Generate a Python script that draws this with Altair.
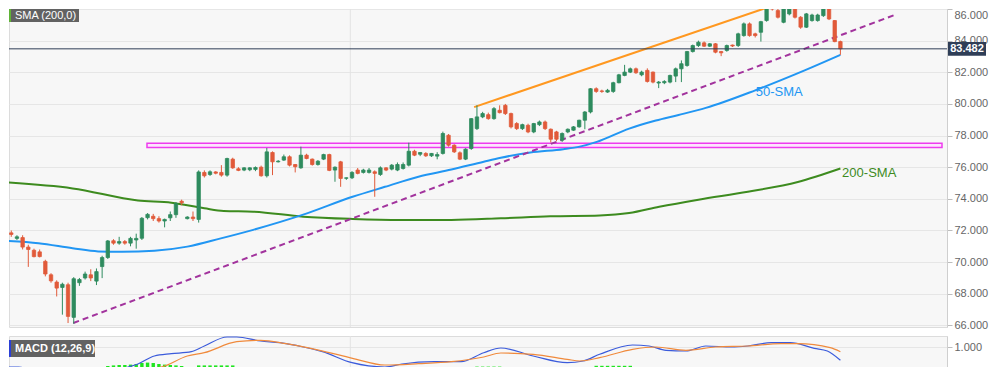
import altair as alt
import pandas as pd

# ---------------- candle data (index = trading session) ----------------
opens = [71.9, 71.85, 71.5, 71.55, 70.95, 70.75, 70.65, 70.05, 69.2, 68.74,
         68.4, 68.57, 66.51, 68.7, 69.0, 69.2, 68.8, 69.72, 70.29, 71.35,
         71.2, 71.3, 71.2, 71.4, 71.51, 72.81, 72.9, 72.75, 72.6, 72.8,
         73.0, 73.85, 72.75, 72.85, 72.7, 75.67, 75.54, 75.7, 75.67, 75.5,
         76.51, 75.9, 75.82, 75.84, 75.86, 76.0, 75.46, 76.93, 76.34, 76.45,
         76.66, 76.17, 75.96, 76.76, 76.51, 76.17, 76.51, 76.8, 75.82, 76.34,
         75.3, 75.33, 75.82, 75.67, 75.67, 75.71, 75.54, 75.96, 75.88, 75.82,
         75.92, 76.13, 77.01, 76.82, 76.87, 76.72, 76.7, 76.87, 78.02, 77.39,
         76.91, 76.51, 77.18, 78.44, 79.18, 79.32, 79.07, 79.6, 79.91, 79.39,
         78.76, 78.44, 78.65, 78.23, 78.69, 78.86, 78.4, 78.23, 77.71, 78.23,
         78.34, 78.55, 78.97, 79.49, 80.96, 80.82, 80.75, 80.79, 81.34, 81.8,
         82.01, 82.22, 81.84, 82.12, 82.01, 81.32, 81.34, 81.38, 81.76, 82.22,
         82.43, 83.31, 83.69, 83.86, 83.65, 83.8, 83.31, 83.38, 83.72, 83.69,
         84.32, 85.06, 84.43, 84.53, 85.27, 86.11, 85.9, 85.16, 85.69, 86.11,
         85.48, 84.85, 85.27, 85.27, 85.58, 86.21, 85.27, 83.94]
highs = [72.0, 72.0, 71.7, 71.7, 71.1, 70.85, 70.8, 70.15, 69.3, 68.85,
         68.7, 68.7, 69.05, 69.0, 69.4, 69.55, 69.6, 70.4, 71.4, 71.45,
         71.6, 71.4, 71.6, 71.8, 72.85, 73.1, 73.05, 72.9, 72.75, 73.2,
         73.8, 73.95, 72.9, 73.2, 75.8, 75.8, 75.8, 75.75, 76.13, 76.6,
         76.6, 76.0, 76.0, 76.0, 76.05, 76.1, 77.22, 77.0, 76.45, 76.8,
         76.75, 76.2, 77.3, 76.85, 76.55, 76.45, 76.85, 76.85, 76.05, 76.4,
         75.35, 75.75, 75.95, 75.9, 75.95, 75.8, 76.05, 76.0, 76.2, 76.3,
         76.3, 77.55, 77.1, 76.95, 76.95, 76.9, 76.95, 78.25, 78.1, 77.45,
         77.0, 77.2, 79.1, 79.91, 79.5, 79.45, 79.8, 79.91, 80.0, 79.45,
         78.85, 78.75, 78.75, 78.8, 78.95, 78.95, 78.45, 78.3, 78.2, 78.45,
         78.6, 79.0, 79.55, 81.0, 81.05, 80.9, 80.95, 81.4, 81.9, 82.47,
         82.3, 82.3, 82.1, 82.25, 82.05, 81.45, 81.5, 81.85, 82.3, 82.75,
         83.35, 83.75, 84.0, 83.95, 83.85, 83.85, 83.35, 83.75, 83.75, 84.5,
         85.15, 85.15, 84.5, 85.25, 86.1, 86.2, 86.0, 86.05, 86.15, 86.42,
         85.55, 85.75, 85.7, 85.7, 86.25, 86.42, 85.3, 84.0]
lows = [71.65, 71.6, 71.4, 70.8, 69.7, 70.3, 70.3, 69.1, 68.7, 67.83,
        66.68, 66.15, 66.1, 68.5, 68.9, 68.8, 68.55, 68.99, 70.2, 71.1,
        71.1, 71.1, 71.0, 70.85, 71.4, 72.7, 72.6, 72.5, 72.2, 72.6,
        72.8, 73.6, 72.7, 72.6, 72.5, 75.35, 75.45, 75.55, 75.4, 75.4,
        75.9, 75.75, 75.75, 75.75, 75.75, 75.4, 75.35, 75.5, 76.3, 76.4,
        76.05, 75.67, 75.9, 76.5, 76.1, 76.1, 76.45, 75.75, 75.08, 74.76,
        75.2, 75.25, 75.55, 75.6, 75.6, 74.13, 75.45, 75.75, 75.8, 75.75,
        75.85, 76.05, 76.7, 76.7, 76.65, 76.65, 76.5, 76.8, 77.3, 76.9,
        76.45, 76.45, 77.1, 78.35, 79.1, 79.0, 79.0, 79.4, 79.3, 78.45,
        78.35, 78.35, 78.15, 78.15, 78.6, 78.35, 77.56, 77.65, 77.6, 78.15,
        78.3, 78.5, 78.4, 79.4, 80.7, 80.7, 80.7, 80.7, 81.3, 81.75,
        81.95, 81.9, 81.75, 81.35, 81.3, 81.0, 81.25, 81.3, 81.38, 81.38,
        82.35, 83.25, 83.6, 83.6, 83.6, 83.2, 83.02, 83.3, 83.6, 83.6,
        84.25, 84.25, 84.2, 83.94, 85.2, 85.9, 85.4, 85.1, 85.6, 85.4,
        84.75, 84.8, 85.2, 85.2, 85.5, 85.3, 83.9, 83.1]
closes = [71.8, 71.75, 71.6, 70.95, 70.8, 70.35, 70.35, 69.25, 68.82, 68.36,
          68.6, 66.57, 68.95, 68.9, 69.25, 69.0, 69.4, 70.29, 71.34, 71.2,
          71.3, 71.2, 71.5, 71.5, 72.77, 73.02, 72.75, 72.6, 72.7, 73.0,
          73.7, 73.75, 72.85, 72.75, 75.7, 75.46, 75.71, 75.62, 75.5, 76.55,
          75.96, 75.8, 75.96, 75.96, 75.98, 75.46, 76.97, 76.34, 76.38, 76.66,
          76.13, 76.03, 76.76, 76.55, 76.17, 76.38, 76.8, 75.8, 76.0, 75.29,
          75.33, 75.67, 75.61, 75.82, 75.82, 75.61, 75.96, 75.82, 76.13, 76.17,
          76.17, 77.01, 76.76, 76.93, 76.72, 76.87, 76.8, 78.13, 77.39, 76.97,
          76.51, 77.14, 79.07, 79.18, 79.39, 79.07, 79.7, 79.45, 79.39, 78.55,
          78.44, 78.69, 78.23, 78.76, 78.86, 78.44, 77.77, 77.77, 78.13, 78.4,
          78.55, 78.97, 79.49, 80.96, 80.79, 80.79, 80.86, 81.34, 81.84, 82.01,
          82.22, 81.97, 82.01, 81.42, 81.38, 81.38, 81.42, 81.8, 82.22, 82.54,
          83.31, 83.69, 83.9, 83.65, 83.8, 83.27, 83.23, 83.69, 83.66, 84.43,
          85.06, 84.32, 84.32, 85.2, 86.04, 86.0, 85.48, 86.0, 86.04, 85.48,
          84.85, 85.69, 85.62, 85.62, 86.21, 85.37, 83.94, 83.482]

# ---------------- overlays ----------------
sma50_idx = [0.1, 5.8, 11.8, 16.3, 20.5, 26.2, 32.0, 37.9, 43.6, 52.4, 61.1, 66.8,
             72.7, 78.5, 84.2, 87.2, 92.4, 98.2, 101.1, 104.1, 109.8, 114.5,
             118.5, 123.3, 132.0, 140.7, 147.0]
sma50_val = [71.35, 71.2, 70.88, 70.68, 70.66, 70.72, 70.98, 71.5, 72.04, 73.0, 74.13,
             74.76, 75.4, 75.85, 76.35, 76.6, 76.93, 77.14, 77.3, 77.6, 78.44, 78.95,
             79.3, 79.75, 80.86, 82.12, 83.1]
sma200_idx = [0.1, 11.8, 23.3, 29.2, 35.0, 38.4, 43.6, 52.4, 61.1, 69.8, 78.5, 87.2,
              95.9, 104.6, 109.8, 115.1, 122.0, 130.7, 139.5, 147.0]
sma200_val = [75.04, 74.66, 73.9, 73.76, 73.4, 73.23, 73.19, 72.87, 72.73, 72.67, 72.67,
              72.77, 72.9, 72.95, 73.1, 73.5, 73.95, 74.45, 75.07, 75.92]
support_idx = [11.93, 156.9]
support_val = [66.15, 85.67]
resist_idx = [82.5, 136.8]
resist_val = [79.8, 86.42]
zone_idx = [24.9, 164.89]
zone_val = [77.25, 77.52]
last_price = 83.482
grid_idx = 60.7

# ---------------- MACD (12,26,9) ----------------
macd_idx = [0.1, 2.3, 6, 10, 18, 21, 23.3, 26.2, 29.2, 32.7, 35, 39, 40.7, 44.9, 48.3,
            52.4, 55.8, 61, 66.8, 69.8, 75.5, 80.2, 84.2, 87.2, 92.9, 98.9, 101.7,
            104.6, 110.4, 113.3, 116.3, 119.8, 123.3, 127.8, 130.7, 134.8, 138.2,
            142.4, 144.7, 147]
macd_val = [0.0, 0.0, -0.3, -0.5, -0.3, -0.05, 0.15, 0.55, 0.665, 0.765, 1.05, 1.5, 1.5,
            1.3, 1.215, 1.0, 0.765, 0.215, 0.0, 0.15, 0.265, 0.265, 0.715, 0.95, 0.55,
            0.215, 0.3, 0.635, 1.1, 1.05, 0.835, 0.8, 1.05, 1.0, 1.05, 1.215, 1.215,
            0.935, 0.8, 0.335]
signal_idx = [0.1, 15, 22, 27.4, 32, 35, 40.7, 44.9, 49.4, 55.3, 61.1, 66.8, 72.7, 78.5,
              84.2, 87.2, 92.9, 98.9, 101.1, 104.6, 110.4, 114.5, 119.8, 125, 130.7,
              136.5, 139.5, 145.2, 147]
signal_val = [-0.4, -0.3, -0.15, 0.0, 0.55, 0.715, 1.265, 1.335, 1.165, 0.835, 0.435,
              0.1, 0.165, 0.265, 0.5, 0.7, 0.635, 0.385, 0.3, 0.465, 0.885, 1.0, 0.835,
              1.0, 1.05, 1.165, 1.165, 0.965, 0.765]
hist_idx = list(range(18, 32)) + list(range(34, 41)) + list(range(83, 88)) + list(range(104, 111))
hist_val = [0.05, 0.08, 0.1, 0.1, 0.12, 0.15, 0.2, 0.22, 0.2, 0.15, 0.12, 0.1, 0.08, 0.05,
            0.08, 0.08, 0.08, 0.08, 0.08, 0.08, 0.08,
            0.02, 0.02, 0.02, 0.02, 0.02,
            0.06, 0.06, 0.06, 0.06, 0.06, 0.06, 0.06]
HIST_BASE = -0.3

# ---------------- styling ----------------
GREEN = "#2e8b5e"
RED = "#e15a3a"
BLUE = "#2196f3"
DKGREEN = "#3d8b1f"
FONT = "Liberation Sans"
XDOM = [1.481, 164.89]
YDOM = [65.9, 86.0]
MDOM = [-1.45, 1.55]
W = 938

xs = alt.Scale(domain=XDOM, nice=False, zero=False)
ys = alt.Scale(domain=YDOM, nice=False, zero=False)
ms = alt.Scale(domain=MDOM, nice=False, zero=False)
yaxis = alt.Axis(orient="right", values=list(range(66, 87, 2)), format=".3f", title=None,
                 grid=True, gridColor="#e6e6e6", domainColor="#cfcfcf", tickColor="#bdbdbd",
                 tickSize=5, labelColor="#666666", labelFont=FONT, labelFontSize=11,
                 labelPadding=2, labelFlush=True)
maxis = alt.Axis(orient="right", values=[1.0], format=".3f", title=None,
                 grid=True, gridColor="#e6e6e6", domainColor="#cfcfcf", tickColor="#bdbdbd",
                 tickSize=5, labelColor="#666666", labelFont=FONT, labelFontSize=11,
                 labelPadding=2)


def X(f):
    return alt.X(f, type="quantitative", scale=xs, axis=None)


def Y(f):
    return alt.Y(f, type="quantitative", scale=ys, axis=yaxis)


def M(f):
    return alt.Y(f, type="quantitative", scale=ms, axis=maxis)


candles = pd.DataFrame({"idx": range(len(opens)), "o": opens, "h": highs, "l": lows, "c": closes})
candles["dir"] = ["up" if c >= o else "down" for o, c in zip(opens, closes)]
col = alt.Color("dir:N", scale=alt.Scale(domain=["up", "down"], range=[GREEN, RED]), legend=None)
stk = alt.Stroke("dir:N", scale=alt.Scale(domain=["up", "down"], range=[GREEN, RED]), legend=None)

vgrid = alt.Chart(pd.DataFrame({"idx": [grid_idx]})).mark_rule(color="#e3e3e3", clip=True).encode(x=X("idx"))
zone = alt.Chart(pd.DataFrame({"x1": [zone_idx[0]], "x2": [zone_idx[1]], "y1": [zone_val[0]], "y2": [zone_val[1]]})).mark_rect(
    fill="#fde4fd", stroke="#ee3cee", strokeWidth=1.5, clip=True).encode(
    x=X("x1"), x2="x2", y=Y("y1"), y2="y2")
s200 = alt.Chart(pd.DataFrame({"idx": sma200_idx, "v": sma200_val})).mark_line(
    color=DKGREEN, strokeWidth=2, clip=True, interpolate="monotone").encode(x=X("idx"), y=Y("v"))
s50 = alt.Chart(pd.DataFrame({"idx": sma50_idx, "v": sma50_val})).mark_line(
    color=BLUE, strokeWidth=2, clip=True, interpolate="monotone").encode(x=X("idx"), y=Y("v"))
sup = alt.Chart(pd.DataFrame({"idx": support_idx, "v": support_val})).mark_line(
    color="#a2339d", strokeWidth=2, strokeDash=[6, 4], clip=True).encode(x=X("idx"), y=Y("v"))
res = alt.Chart(pd.DataFrame({"idx": resist_idx, "v": resist_val})).mark_line(
    color="#ff9820", strokeWidth=2, clip=True).encode(x=X("idx"), y=Y("v"))
wick = alt.Chart(candles).mark_rule(strokeWidth=1, clip=True).encode(
    x=X("idx"), y=Y("l"), y2="h", color=col)
body = alt.Chart(candles).mark_bar(size=3.4, strokeWidth=0.8, clip=True).encode(
    x=X("idx"), y=Y("o"), y2="c", color=col, stroke=stk)
pline = alt.Chart(pd.DataFrame({"v": [last_price]})).mark_rule(color="#2f3e57", strokeWidth=1).encode(y=Y("v"))

lab50 = alt.Chart(pd.DataFrame({"idx": [132.1], "v": [80.75], "t": ["50-SMA"]})).mark_text(
    align="left", baseline="middle", font=FONT, fontSize=13, color=BLUE).encode(
    x=X("idx"), y=Y("v"), text="t:N")
lab200 = alt.Chart(pd.DataFrame({"idx": [147.3], "v": [75.65], "t": ["200-SMA"]})).mark_text(
    align="left", baseline="middle", font=FONT, fontSize=13, color=DKGREEN).encode(
    x=X("idx"), y=Y("v"), text="t:N")

one = pd.DataFrame({"t": ["SMA (200,0)"]})
sbox = alt.Chart(one).mark_rect(color="#626262").encode(
    x=alt.value(0), x2=alt.value(70), y=alt.value(0), y2=alt.value(13))
sbar = alt.Chart(one).mark_rect(color="#5fb336").encode(
    x=alt.value(0), x2=alt.value(2), y=alt.value(0), y2=alt.value(13))
stxt = alt.Chart(one).mark_text(align="left", baseline="middle", color="white", font=FONT, fontSize=11).encode(
    x=alt.value(6), y=alt.value(6.5), text="t:N")

lp = pd.DataFrame({"v": [last_price], "lo": [last_price - 0.44], "hi": [last_price + 0.44],
                   "t": [f"{last_price:.3f}"]})
lpbox = alt.Chart(lp).mark_rect(color="#2f3e57").encode(
    x=alt.value(939), x2=alt.value(977), y=Y("lo"), y2="hi")
lptxt = alt.Chart(lp).mark_text(align="center", baseline="middle", color="white", font=FONT,
                                fontSize=11, fontWeight="bold").encode(
    x=alt.value(958), y=Y("v"), text="t:N")

main = alt.layer(vgrid, zone, s200, s50, sup, res, wick, body, pline, lab50, lab200,
                 sbox, sbar, stxt, lpbox, lptxt).properties(width=W, height=318)

# MACD panel
mgrid = alt.Chart(pd.DataFrame({"idx": [grid_idx]})).mark_rule(color="#e3e3e3", clip=True).encode(x=X("idx"))
hist = pd.DataFrame({"idx": hist_idx, "v": hist_val})
hist["base"] = HIST_BASE
hbar = alt.Chart(hist).mark_bar(size=3.4, color="#1fe51f", clip=True).encode(
    x=X("idx"), y=M("v"), y2="base")
mline = alt.Chart(pd.DataFrame({"idx": macd_idx, "v": macd_val})).mark_line(
    color="#3b5bdb", strokeWidth=1.2, clip=True, interpolate="monotone").encode(x=X("idx"), y=M("v"))
sline = alt.Chart(pd.DataFrame({"idx": signal_idx, "v": signal_val})).mark_line(
    color="#f08a3c", strokeWidth=1.2, clip=True, interpolate="monotone").encode(x=X("idx"), y=M("v"))
mone = pd.DataFrame({"t": ["MACD (12,26,9)"]})
mbox = alt.Chart(mone).mark_rect(color="#626262").encode(
    x=alt.value(0), x2=alt.value(86), y=alt.value(4), y2=alt.value(21))
mbar = alt.Chart(mone).mark_rect(color="#2b3fd6").encode(
    x=alt.value(0), x2=alt.value(2), y=alt.value(4), y2=alt.value(21))
mtxt = alt.Chart(mone).mark_text(align="left", baseline="middle", color="white", font=FONT,
                                 fontSize=11, fontWeight="bold").encode(
    x=alt.value(6), y=alt.value(12.5), text="t:N")
macd = alt.layer(mgrid, hbar, mline, sline, mbox, mbar, mtxt).properties(width=W, height=60)

chart = alt.vconcat(main, macd, spacing=9, bounds="flush").properties(padding=0).configure(
    font=FONT).configure_view(fill="#f7f7f7", stroke="#dcdcdc")

chart.save("out.html", embed_options={"renderer": "svg", "actions": False})
